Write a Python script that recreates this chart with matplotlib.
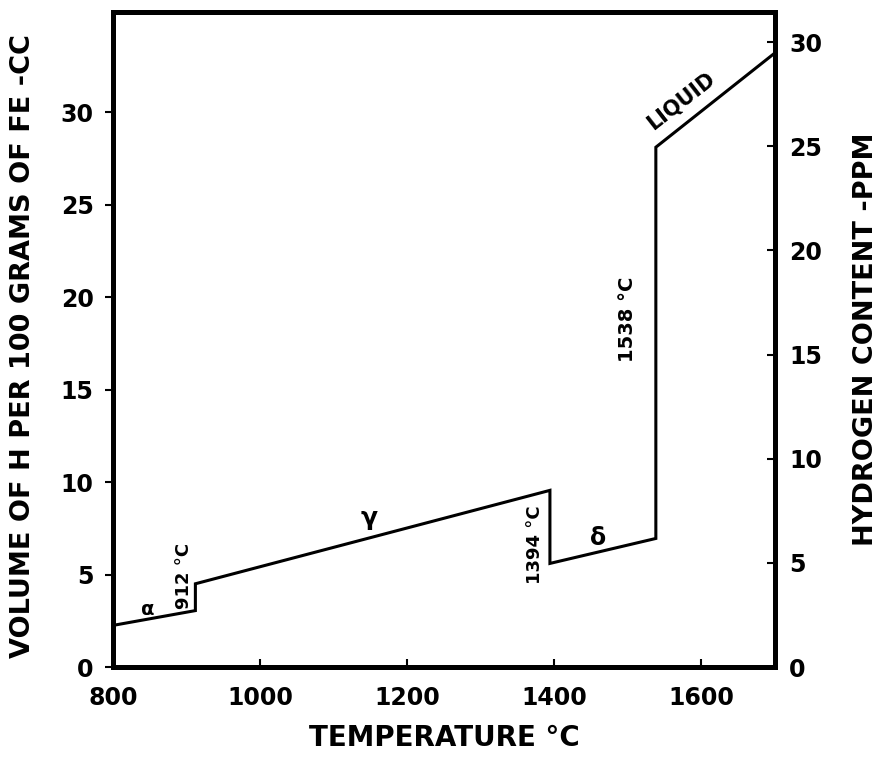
import matplotlib
matplotlib.use("Agg")
import matplotlib.pyplot as plt

# Hydrogen solubility in iron vs temperature (1 atm H2)
temps = [800, 912, 912, 1394, 1394, 1538, 1538, 1700]
volume_cc = [2.25, 3.05, 4.5, 9.55, 5.6, 6.95, 28.1, 33.2]

x_ticks = [800, 1000, 1200, 1400, 1600]
cc_ticks = [0, 5, 10, 15, 20, 25, 30]
ppm_ticks = [0, 5, 10, 15, 20, 25, 30]
cc_per_ppm = 1.126
cc_top = 35.4

plt.rcParams['font.family'] = 'DejaVu Sans'
plt.rcParams['font.weight'] = 'bold'

fig = plt.figure(figsize=(8.78, 7.61), dpi=100)
ax = fig.add_axes([0.1287, 0.1235, 0.754, 0.8605])

ax.plot(temps, volume_cc, color='black', linewidth=2.2, solid_joinstyle='miter')

ax.set_xlim(800, 1700)
ax.set_ylim(0, cc_top)
ax.set_xticks(x_ticks)
ax.set_yticks(cc_ticks)
ax.tick_params(axis='x', direction='in', length=6, width=1.5, pad=14, labelsize=17)
ax.tick_params(axis='y', direction='out', length=6, width=1.5, pad=8, labelsize=17)
for lbl in ax.get_xticklabels() + ax.get_yticklabels():
    lbl.set_fontweight('bold')
for s in ax.spines.values():
    s.set_linewidth(3.6)

ax.set_xlabel("TEMPERATURE °C", fontsize=20, fontweight='bold', labelpad=10)
ax.set_ylabel("VOLUME OF H PER 100 GRAMS OF FE -CC", fontsize=19.5, fontweight='bold',
              va='center', ha='center')
ax.yaxis.set_label_coords(-0.136, 0.49)

# right axis in ppm
ax2 = ax.twinx()
ax2.set_ylim(0, cc_top / cc_per_ppm)
ax2.set_yticks(ppm_ticks)
ax2.tick_params(axis='y', direction='in', length=6, width=1.5, pad=10, labelsize=17)
for lbl in ax2.get_yticklabels():
    lbl.set_fontweight('bold')
for s in ax2.spines.values():
    s.set_linewidth(3.6)
ax2.set_ylabel("HYDROGEN CONTENT -PPM", fontsize=19.5, fontweight='bold',
               rotation=90, va='center', ha='center')
ax2.yaxis.set_label_coords(1.137, 0.5)

# phase labels and transition temperatures
ax.text(847, 3.1, "α", fontsize=14, ha='center', va='center')
ax.text(1148, 8.05, "γ", fontsize=18, ha='center', va='center')
ax.text(1460, 7.0, "δ", fontsize=17, ha='center', va='center')
ax.text(1572, 30.6, "LIQUID", fontsize=15, fontweight='bold', rotation=38,
        ha='center', va='center', rotation_mode='anchor')
ax.text(896, 4.9, "912 °C", fontsize=13, fontweight='bold', rotation=90, ha='center', va='center')
ax.text(1374, 6.6, "1394 °C", fontsize=13, fontweight='bold', rotation=90, ha='center', va='center')
ax.text(1500, 18.8, "1538 °C", fontsize=14, fontweight='bold', rotation=90, ha='center', va='center')

fig.savefig("out.png", dpi=100)
